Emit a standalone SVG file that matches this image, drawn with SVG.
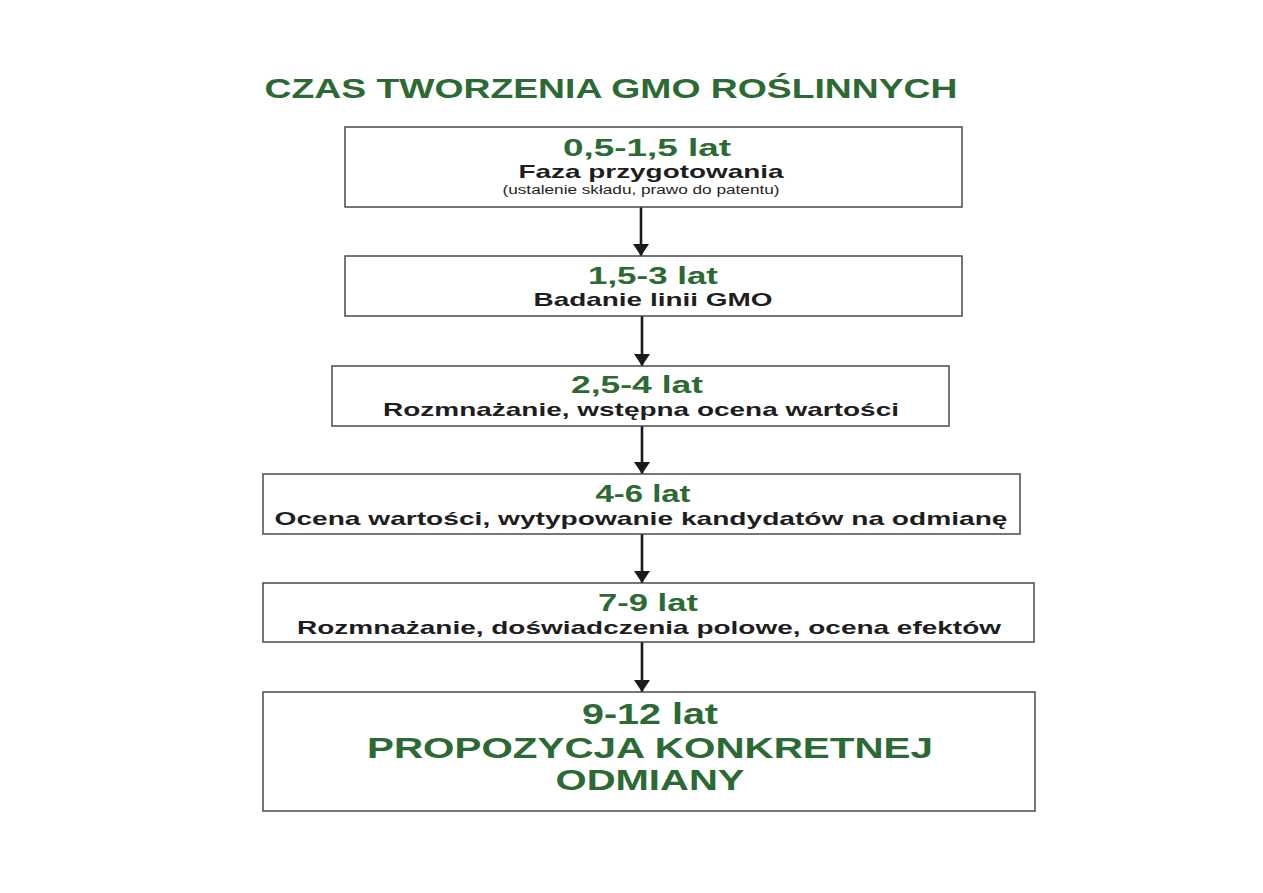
<svg xmlns="http://www.w3.org/2000/svg" width="1263" height="893" viewBox="0 0 1263 893">
<defs>
<style>
.box{fill:#fff;stroke:#4a4a4a;stroke-width:1.5}
.t{font-family:"Liberation Sans",Arial,sans-serif;font-weight:bold;text-anchor:middle}
.sub{font-weight:normal}
.g{fill:#2c6a33}
.k{fill:#1e1e1e}
.conn{stroke:#1a1a1a;stroke-width:2.6;fill:none}
</style>
<marker id="ah" viewBox="0 0 12 16" refX="12" refY="8" markerWidth="12" markerHeight="16" markerUnits="userSpaceOnUse" orient="auto">
<path d="M0,0 L12,8 L0,16 Z" fill="#1a1a1a"/>
</marker>
</defs>
<rect width="1263" height="893" fill="#fff"/>
<text id="title" class="t g" x="611" y="98" font-size="28" textLength="693" lengthAdjust="spacingAndGlyphs">CZAS TWORZENIA GMO ROŚLINNYCH</text>
<g id="connectors">
<line class="conn" x1="641" y1="207" x2="641" y2="256" marker-end="url(#ah)"/>
<line class="conn" x1="642" y1="316" x2="642" y2="366" marker-end="url(#ah)"/>
<line class="conn" x1="642" y1="426" x2="642" y2="474" marker-end="url(#ah)"/>
<line class="conn" x1="642" y1="534" x2="642" y2="583" marker-end="url(#ah)"/>
<line class="conn" x1="642" y1="642" x2="642" y2="692" marker-end="url(#ah)"/>
</g>
<g id="n1">
<rect class="box" x="345" y="127" width="617" height="80"/>
<text class="t g" x="647" y="156" font-size="23" textLength="168" lengthAdjust="spacingAndGlyphs">0,5-1,5 lat</text>
<text class="t k" x="651" y="178" font-size="19" textLength="265" lengthAdjust="spacingAndGlyphs">Faza przygotowania</text>
<text class="t k sub" x="641" y="194" font-size="12.5" textLength="277" lengthAdjust="spacingAndGlyphs">(ustalenie składu, prawo do patentu)</text>
</g>
<g id="n2">
<rect class="box" x="345" y="256" width="617" height="60"/>
<text class="t g" x="653" y="284" font-size="23" textLength="130" lengthAdjust="spacingAndGlyphs">1,5-3 lat</text>
<text class="t k" x="653" y="306" font-size="19" textLength="239" lengthAdjust="spacingAndGlyphs">Badanie linii GMO</text>
</g>
<g id="n3">
<rect class="box" x="332" y="366" width="617" height="60"/>
<text class="t g" x="637" y="393" font-size="23" textLength="132" lengthAdjust="spacingAndGlyphs">2,5-4 lat</text>
<text class="t k" x="641" y="416" font-size="19" textLength="516" lengthAdjust="spacingAndGlyphs">Rozmnażanie, wstępna ocena wartości</text>
</g>
<g id="n4">
<rect class="box" x="263" y="474" width="757" height="60"/>
<text class="t g" x="643" y="502" font-size="23" textLength="95" lengthAdjust="spacingAndGlyphs">4-6 lat</text>
<text class="t k" x="641" y="525" font-size="19" textLength="733" lengthAdjust="spacingAndGlyphs">Ocena wartości, wytypowanie kandydatów na odmianę</text>
</g>
<g id="n5">
<rect class="box" x="263" y="583" width="771" height="59"/>
<text class="t g" x="648" y="611" font-size="23" textLength="100" lengthAdjust="spacingAndGlyphs">7-9 lat</text>
<text class="t k" x="649" y="634" font-size="19" textLength="704" lengthAdjust="spacingAndGlyphs">Rozmnażanie, doświadczenia polowe, ocena efektów</text>
</g>
<g id="n6">
<rect class="box" x="263" y="692" width="772" height="119"/>
<text class="t g" x="650" y="724" font-size="29" textLength="136" lengthAdjust="spacingAndGlyphs">9-12 lat</text>
<text class="t g" x="650" y="758" font-size="29" textLength="566" lengthAdjust="spacingAndGlyphs">PROPOZYCJA KONKRETNEJ</text>
<text class="t g" x="650" y="790" font-size="29" textLength="189" lengthAdjust="spacingAndGlyphs">ODMIANY</text>
</g>
</svg>
